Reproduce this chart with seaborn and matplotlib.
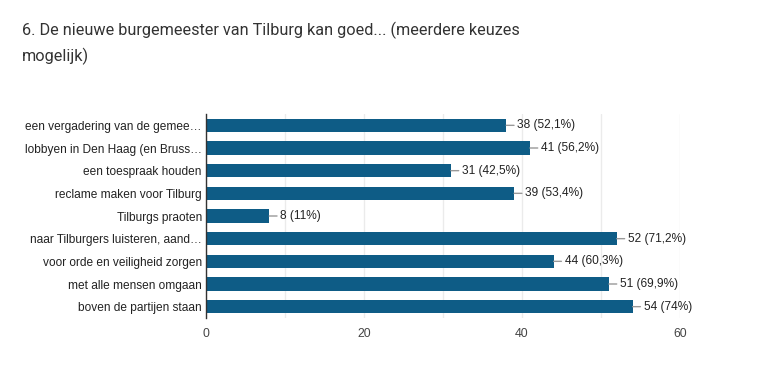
import pandas as pd
import matplotlib
matplotlib.use("Agg")
import matplotlib.pyplot as plt
import seaborn as sns

title = "6. De nieuwe burgemeester van Tilburg kan goed... (meerdere keuzes\nmogelijk)"

categories = [
    "een vergadering van de gemee…",
    "lobbyen in Den Haag (en Bruss…",
    "een toespraak houden",
    "reclame maken voor Tilburg",
    "Tilburgs praoten",
    "naar Tilburgers luisteren, aand…",
    "voor orde en veiligheid zorgen",
    "met alle mensen omgaan",
    "boven de partijen staan",
]
counts = [38, 41, 31, 39, 8, 52, 44, 51, 54]
percents = ["52,1%", "56,2%", "42,5%", "53,4%", "11%", "71,2%", "60,3%", "69,9%", "74%"]

df = pd.DataFrame({"optie": categories, "aantal": counts, "pct": percents})

sns.set_style("white")
plt.rcParams["font.family"] = ["Liberation Sans", "DejaVu Sans"]

fig = plt.figure(figsize=(7.64, 3.75), dpi=100)
ax = fig.add_axes([206 / 764, 1 - 318 / 375, (680 - 206) / 764, (318 - 114) / 375])

sns.barplot(data=df, x="aantal", y="optie", color="#0e5c86", saturation=1,
            width=0.6, ax=ax, orient="h", edgecolor="none")

ax.set_xlim(0, 60)
ax.set_ylim(8.5, -0.5)
ax.set_xticks([0, 20, 40, 60])
ax.set_xticks([10, 30, 50], minor=True)
ax.grid(axis="x", which="both", color="#ebebeb", linewidth=1)
ax.set_axisbelow(True)
ax.tick_params(axis="x", which="both", length=0, pad=7, labelsize=8.8, labelcolor="#444444")
ax.tick_params(axis="y", length=0, pad=3, labelsize=8.6, labelcolor="#222222")
ax.set_xlabel("")
ax.set_ylabel("")
for s in ["top", "right", "bottom"]:
    ax.spines[s].set_visible(False)
ax.spines["left"].set_color("#333333")
ax.spines["left"].set_linewidth(1)

# value labels with small leader line
for i, (n, p) in enumerate(zip(counts, percents)):
    ax.annotate(f"{n} ({p})", xy=(n, i), xytext=(8, 0), textcoords="offset points",
                ha="left", va="center", fontsize=8.6, color="#222222",
                arrowprops=dict(arrowstyle="-", color="#999999", lw=1,
                                shrinkA=0, shrinkB=0))

fig.text(22 / 764, 1 - 22 / 375, title, ha="left", va="top", fontsize=11.7,
         color="#333333", family=["Roboto", "DejaVu Sans"], linespacing=1.6)

fig.savefig("out.png", dpi=100)
